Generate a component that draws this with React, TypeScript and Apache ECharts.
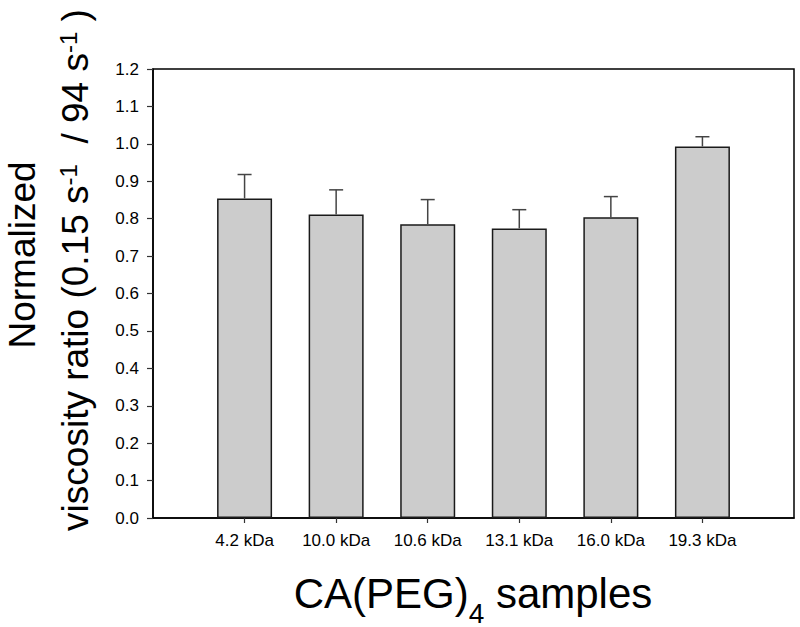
import React, { useEffect, useRef } from "react";
import * as echarts from "echarts";

const categories = ["4.2 kDa", "10.0 kDa", "10.6 kDa", "13.1 kDa", "16.0 kDa", "19.3 kDa"];
const ratios = [0.854, 0.811, 0.785, 0.774, 0.804, 0.993];
const errors = [0.064, 0.066, 0.066, 0.05, 0.055, 0.026];
const yTicks = { min: 0, max: 1.2, interval: 0.1 };

const FONT = "'Liberation Sans', Arial, Helvetica, sans-serif";

export default function App() {
  const ref = useRef<HTMLDivElement>(null);

  useEffect(() => {
    if (!ref.current) return;
    const chart = echarts.init(ref.current, undefined, { renderer: "svg" });
    const axisCats = ["", ...categories, ""];
    const barData: (number | string)[] = ["-", ...ratios, "-"];
    const errData = ratios.map((v, i) => [i + 1, v + errors[i], v]);

    chart.setOption({
      animation: false,
      backgroundColor: "#ffffff",
      textStyle: { fontFamily: FONT },
      grid: {
        left: 153,
        right: 6,
        top: 69,
        bottom: 109,
        show: true,
        borderColor: "#000",
        borderWidth: 1.5,
      },
      xAxis: {
        type: "category",
        data: axisCats,
        boundaryGap: false,
        axisLine: { lineStyle: { color: "#000", width: 1.5 } },
        axisTick: {
          show: true,
          length: 5,
          interval: (idx: number) => idx >= 1 && idx <= categories.length,
          lineStyle: { color: "#333", width: 1.2 },
        },
        axisLabel: {
          interval: 0,
          color: "#000",
          fontSize: 17,
          fontFamily: FONT,
          margin: 14,
        },
        splitLine: { show: false },
      },
      yAxis: {
        type: "value",
        min: yTicks.min,
        max: yTicks.max,
        interval: yTicks.interval,
        axisLine: { show: true, lineStyle: { color: "#000", width: 1.5 } },
        axisTick: { show: true, length: 6, lineStyle: { color: "#333", width: 1.2 } },
        axisLabel: {
          color: "#000",
          fontSize: 17,
          fontFamily: FONT,
          margin: 14,
          formatter: (v: number) => v.toFixed(1),
        },
        splitLine: { show: false },
      },
      graphic: [
        {
          type: "text",
          x: 22,
          y: 255,
          rotation: Math.PI / 2,
          style: {
            text: "Normalized",
            fontSize: 37,
            fontFamily: FONT,
            fill: "#000",
            align: "center",
            verticalAlign: "middle",
          },
        },
        {
          type: "text",
          x: 75,
          y: 270,
          rotation: Math.PI / 2,
          style: {
            text: "viscosity ratio (0.15 s{sup|-1}  / 94 s{sup|-1} )",
            fontSize: 37,
            lineHeight: 37,
            fontFamily: FONT,
            fill: "#000",
            align: "center",
            verticalAlign: "middle",
            rich: {
              sup: {
                fontSize: 24,
                lineHeight: 24,
                fontFamily: FONT,
                fill: "#000",
                padding: [0, 0, 14, 0],
              },
            },
          },
        },
        {
          type: "text",
          x: 473,
          y: 593,
          style: {
            text: "CA(PEG){sub|4} samples",
            fontSize: 42,
            lineHeight: 42,
            fontFamily: FONT,
            fill: "#000",
            align: "center",
            verticalAlign: "middle",
            rich: {
              sub: {
                fontSize: 28,
                lineHeight: 28,
                fontFamily: FONT,
                fill: "#000",
                padding: [40, 0, 0, 0],
              },
            },
          },
        },
      ],
      series: [
        {
          type: "bar",
          data: barData,
          barWidth: 55,
          itemStyle: { color: "#cccccc", borderColor: "#1a1a1a", borderWidth: 1.5 },
          z: 2,
        },
        {
          type: "custom",
          data: errData,
          encode: { x: 0, y: 1 },
          z: 3,
          renderItem: (params: any, api: any) => {
            const x = api.value(0);
            const top = api.value(1);
            const base = api.value(2);
            const p1 = api.coord([x, base]);
            const p2 = api.coord([x, top]);
            const hw = 7;
            const st = { stroke: "#444", lineWidth: 1.5 };
            return {
              type: "group",
              children: [
                { type: "line", shape: { x1: p1[0], y1: p1[1], x2: p2[0], y2: p2[1] }, style: st },
                { type: "line", shape: { x1: p2[0] - hw, y1: p2[1], x2: p2[0] + hw, y2: p2[1] }, style: st },
              ],
            };
          },
        },
      ],
    });

    return () => chart.dispose();
  }, []);

  return (
    <div
      ref={ref}
      style={{ position: "fixed", left: 0, top: 0, width: 800, height: 627, background: "#fff" }}
    />
  );
}
